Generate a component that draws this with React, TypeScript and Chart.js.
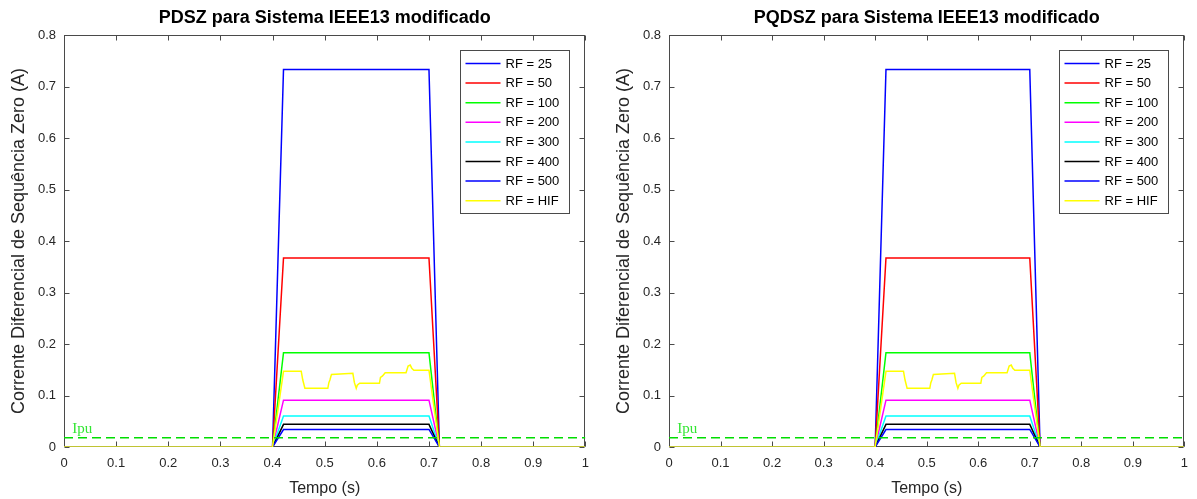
import React, { useEffect, useRef } from "react";
import { Chart, registerables } from "chart.js";

Chart.register(...registerables);

// ---- data ----
const tempo = [0, 0.4, 0.421, 0.7, 0.72, 1];
const rf25 = [0, 0, 0.733, 0.733, 0, 0];
const rf50 = [0, 0, 0.367, 0.367, 0, 0];
const rf100 = [0, 0, 0.183, 0.183, 0, 0];
const rf200 = [0, 0, 0.091, 0.091, 0, 0];
const rf300 = [0, 0, 0.06, 0.06, 0, 0];
const rf400 = [0, 0, 0.044, 0.044, 0, 0];
const rf500 = [0, 0, 0.034, 0.034, 0, 0];

const hifTempo = [
  0, 0.4, 0.421, 0.455, 0.458, 0.462, 0.506, 0.508, 0.51, 0.513, 0.554, 0.557, 0.5605,
  0.5625, 0.567, 0.605, 0.607, 0.611, 0.616, 0.656, 0.66, 0.664, 0.667, 0.671, 0.7, 0.72, 1,
];
const hifValues = [
  0, 0, 0.147, 0.147, 0.13, 0.114, 0.114, 0.125, 0.13, 0.141, 0.143, 0.125, 0.114,
  0.12, 0.124, 0.124, 0.135, 0.138, 0.144, 0.144, 0.157, 0.159, 0.153, 0.149, 0.149, 0, 0,
];

const ipuTempo = [0, 1];
const ipuValues = [0.018, 0.018];

const seriesLabels = ["RF = 25", "RF = 50", "RF = 100", "RF = 200", "RF = 300", "RF = 400", "RF = 500", "RF = HIF"];
const seriesColors = ["#0000ff", "#ff0000", "#00ff00", "#ff00ff", "#00ffff", "#000000", "#0000ff", "#ffff00"];

const xTickValues = [0, 0.1, 0.2, 0.3, 0.4, 0.5, 0.6, 0.7, 0.8, 0.9, 1];
const yTickValues = [0, 0.1, 0.2, 0.3, 0.4, 0.5, 0.6, 0.7, 0.8];

const chartTitles = ["PDSZ para Sistema IEEE13 modificado", "PQDSZ para Sistema IEEE13 modificado"];
const xAxisTitle = "Tempo (s)";
const yAxisTitle = "Corrente Diferencial de Sequência Zero (A)";
const ipuLabel = "Ipu";

const FONT = '"Liberation Sans", Arial, Helvetica, sans-serif';
const AXIS_COLOR = "#4a4a4a";
const TEXT_COLOR = "#262626";

const fmt = (v: number) => {
  const r = Math.round(v * 10) / 10;
  return String(r);
};

const decor = {
  id: "decor",
  beforeDatasetsDraw(chart: any) {
    const { ctx, chartArea: ca, scales } = chart;
    ctx.save();
    ctx.strokeStyle = AXIS_COLOR;
    ctx.lineWidth = 1;
    const l = Math.round(ca.left) + 0.5;
    const r = Math.round(ca.right) - 0.5;
    const t = Math.round(ca.top) + 0.5;
    const b = Math.round(ca.bottom) - 0.5;
    ctx.strokeRect(l, t, r - l, b - t);
    ctx.beginPath();
    for (const v of xTickValues) {
      const px = Math.round(scales.x.getPixelForValue(v)) + 0.5;
      ctx.moveTo(px, b);
      ctx.lineTo(px, b - 5);
      ctx.moveTo(px, t);
      ctx.lineTo(px, t + 5);
    }
    for (const v of yTickValues) {
      const py = Math.round(scales.y.getPixelForValue(v)) + 0.5;
      ctx.moveTo(l, py);
      ctx.lineTo(l + 5, py);
      ctx.moveTo(r, py);
      ctx.lineTo(r - 5, py);
    }
    ctx.stroke();
    ctx.restore();
  },
  afterDatasetsDraw(chart: any) {
    const { ctx, chartArea: ca, scales } = chart;
    ctx.save();
    // Ipu label
    ctx.fillStyle = "#33e633";
    ctx.font = '15px "Liberation Serif", "Times New Roman", serif';
    ctx.textAlign = "left";
    ctx.textBaseline = "alphabetic";
    ctx.fillText(ipuLabel, scales.x.getPixelForValue(0.016), scales.y.getPixelForValue(ipuValues[0]) - 5);

    // legend
    const bx = Math.round(ca.right - 125) + 0.5;
    const by = Math.round(ca.top + 15) + 0.5;
    const bw = 109;
    const bh = 163;
    ctx.fillStyle = "#ffffff";
    ctx.fillRect(bx, by, bw, bh);
    ctx.strokeStyle = AXIS_COLOR;
    ctx.lineWidth = 1;
    ctx.strokeRect(bx, by, bw, bh);
    ctx.font = `13px ${FONT}`;
    ctx.textBaseline = "middle";
    seriesLabels.forEach((lab, i) => {
      const y = by + 13 + i * 19.6;
      ctx.strokeStyle = seriesColors[i];
      ctx.lineWidth = 1.5;
      ctx.beginPath();
      ctx.moveTo(bx + 5, y);
      ctx.lineTo(bx + 40, y);
      ctx.stroke();
      ctx.fillStyle = "#000000";
      ctx.fillText(lab, bx + 45, y + 0.5);
    });
    ctx.restore();
  },
  afterDraw(chart: any, _args: any, opts: any) {
    const { ctx, chartArea: ca } = chart;
    const cx = (ca.left + ca.right) / 2;
    const cy = (ca.top + ca.bottom) / 2;
    ctx.save();
    ctx.fillStyle = "#000000";
    ctx.font = `bold 18px ${FONT}`;
    ctx.textAlign = "center";
    ctx.textBaseline = "middle";
    ctx.fillText(opts.title || "", cx, 18);

    ctx.fillStyle = TEXT_COLOR;
    ctx.font = `16px ${FONT}`;
    ctx.fillText(xAxisTitle, cx, 489);

    ctx.font = `18px ${FONT}`;
    ctx.translate(19, cy);
    ctx.rotate(-Math.PI / 2);
    ctx.fillText(yAxisTitle, 0, 0);
    ctx.restore();
  },
};

function buildDatasets() {
  const seriesValues = [rf25, rf50, rf100, rf200, rf300, rf400, rf500];
  const ds: any[] = seriesValues.map((vals, i) => ({
    label: seriesLabels[i],
    data: tempo.map((t, k) => ({ x: t, y: vals[k] })),
    borderColor: seriesColors[i],
    borderWidth: 1.5,
    pointRadius: 0,
    fill: false,
    tension: 0,
    order: 8 - i,
  }));
  ds.push({
    label: seriesLabels[7],
    data: hifTempo.map((t, k) => ({ x: t, y: hifValues[k] })),
    borderColor: seriesColors[7],
    borderWidth: 1.5,
    pointRadius: 0,
    fill: false,
    tension: 0,
    order: 1,
  });
  ds.push({
    label: "Ipu",
    data: ipuTempo.map((t, k) => ({ x: t, y: ipuValues[k] })),
    borderColor: "#00dd00",
    borderWidth: 1.4,
    borderDash: [9, 5],
    pointRadius: 0,
    fill: false,
    order: 0,
  });
  return ds;
}

function Panel({ left, width, rightEdge, title }: { left: number; width: number; rightEdge: number; title: string }) {
  const ref = useRef<HTMLCanvasElement | null>(null);
  useEffect(() => {
    if (!ref.current) return;
    const tickFont = { family: FONT, size: 13 };
    const chart = new Chart(ref.current, {
      type: "line",
      data: { datasets: buildDatasets() },
      options: {
        responsive: false,
        animation: false,
        layout: { padding: { top: 35, right: width - rightEdge, left: 0, bottom: 0 } },
        plugins: {
          legend: { display: false },
          title: { display: false },
          tooltip: { enabled: false },
          decor: { title },
        } as any,
        scales: {
          x: {
            type: "linear",
            min: 0,
            max: 1,
            grid: { display: false, drawTicks: false },
            border: { display: false },
            ticks: {
              stepSize: 0.1,
              padding: 9,
              color: TEXT_COLOR,
              font: tickFont,
              autoSkip: false,
              maxRotation: 0,
              callback: (v: any) => fmt(Number(v)),
            },
            afterFit: (s: any) => {
              s.height = 52;
            },
          },
          y: {
            type: "linear",
            min: 0,
            max: 0.8,
            grid: { display: false, drawTicks: false },
            border: { display: false },
            ticks: {
              stepSize: 0.1,
              padding: 8,
              color: TEXT_COLOR,
              font: tickFont,
              autoSkip: false,
              callback: (v: any) => fmt(Number(v)),
            },
            afterFit: (s: any) => {
              s.width = 64;
            },
          },
        },
      } as any,
      plugins: [decor as any],
    });
    return () => chart.destroy();
  }, [width, rightEdge, title]);
  return (
    <canvas
      ref={ref}
      width={width}
      height={499}
      style={{ position: "absolute", left, top: 0, width, height: 499, display: "block" }}
    />
  );
}

export default function App() {
  return (
    <div style={{ position: "fixed", left: 0, top: 0, width: 1197, height: 499, background: "#ffffff", overflow: "hidden" }}>
      <Panel left={0} width={598} rightEdge={586} title={chartTitles[0]} />
      <Panel left={605} width={592} rightEdge={585} title={chartTitles[1]} />
    </div>
  );
}
